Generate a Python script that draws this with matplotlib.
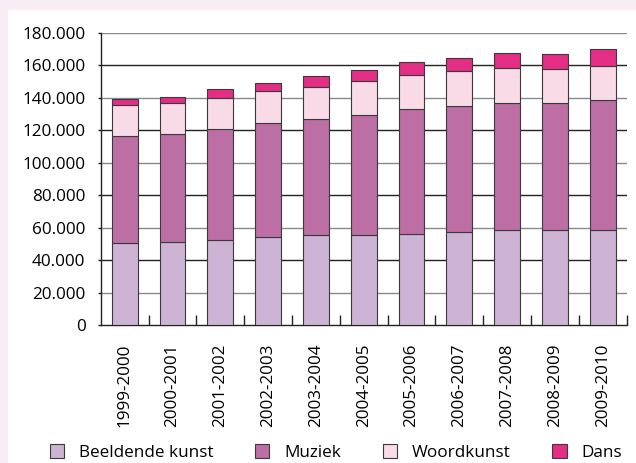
import matplotlib

matplotlib.use("Agg")
import matplotlib.pyplot as plt
import matplotlib.patches as mpatches
from matplotlib.ticker import FuncFormatter, FixedLocator

plt.rcParams["font.family"] = ["Open Sans", "DejaVu Sans"]

seasons = [
    "1999-2000", "2000-2001", "2001-2002", "2002-2003", "2003-2004", "2004-2005",
    "2005-2006", "2006-2007", "2007-2008", "2008-2009", "2009-2010",
]
beeldende_kunst = [50400, 51400, 52600, 54200, 55300, 55900, 56300, 57500, 58700, 58400, 58400]
muziek = [65900, 66100, 68400, 70100, 71800, 73900, 77000, 77600, 78300, 78600, 80100]
woordkunst = [19400, 19700, 19000, 19800, 19900, 20700, 21100, 21300, 21500, 20900, 21200]
dans = [3700, 3500, 5300, 5200, 6600, 6900, 7500, 8400, 9200, 9400, 10400]

series = [
    ("Beeldende kunst", beeldende_kunst, "#cdb4d5"),
    ("Muziek", muziek, "#bd6ea5"),
    ("Woordkunst", woordkunst, "#f9dbe7"),
    ("Dans", dans, "#e42e86"),
]
yticks = list(range(0, 180001, 20000))
FS = 12.3

fig = plt.figure(figsize=(6.36, 4.63), dpi=100, facecolor="#f8edf4")
# white panel inside the pink frame
fig.patches.append(
    mpatches.Rectangle((8 / 636, 0), 1, 1 - 10 / 463, transform=fig.transFigure,
                       facecolor="white", edgecolor="none", zorder=-5)
)
ax = fig.add_axes([100.7 / 636, 1 - 325.3 / 463, 526 / 636, 292.3 / 463])
ax.set_facecolor("white")

# gridlines, alternating dark and grey
for i, v in enumerate(yticks[1:]):
    ax.axhline(v, color="#222222" if i % 2 else "#8a8a8a", lw=1.0, zorder=1)

x = list(range(len(seasons)))
bottom = [0] * len(seasons)
handles = []
for name, vals, col in series:
    ax.bar(x, vals, width=0.54, bottom=bottom, color=col, edgecolor="#3a3a3a",
           linewidth=0.8, zorder=3)
    bottom = [b + v for b, v in zip(bottom, vals)]
    handles.append(mpatches.Patch(facecolor=col, edgecolor="#3a3a3a", linewidth=0.8, label=name))

ax.set_xlim(-0.5, len(seasons) - 0.5)
ax.set_ylim(0, 180000)

ax.set_xticks(x)
ax.set_xticklabels(seasons, rotation=90, fontsize=FS)
ax.tick_params(axis="x", which="major", length=0, pad=13)
ax.xaxis.set_minor_locator(FixedLocator([i + 0.5 for i in x]))
ax.tick_params(axis="x", which="minor", direction="in", length=7, width=1, color="#222222")

ax.set_yticks(yticks)
ax.yaxis.set_major_formatter(FuncFormatter(lambda v, p: f"{int(v):,}".replace(",", ".")))
ax.tick_params(axis="y", direction="out", length=2, width=1, color="#222222", labelsize=FS, pad=9)

for s in ["top", "right"]:
    ax.spines[s].set_visible(False)
for s in ["left", "bottom"]:
    ax.spines[s].set_color("#222222")
    ax.spines[s].set_linewidth(1.0)

fig.legend(handles=handles, loc="center", bbox_to_anchor=(0.528, 0.022), ncol=4,
           frameon=False, fontsize=FS, handlelength=0.85, handleheight=0.85,
           handletextpad=0.85, columnspacing=2.45, borderaxespad=0)

fig.savefig("out.png", dpi=100, facecolor=fig.get_facecolor())
